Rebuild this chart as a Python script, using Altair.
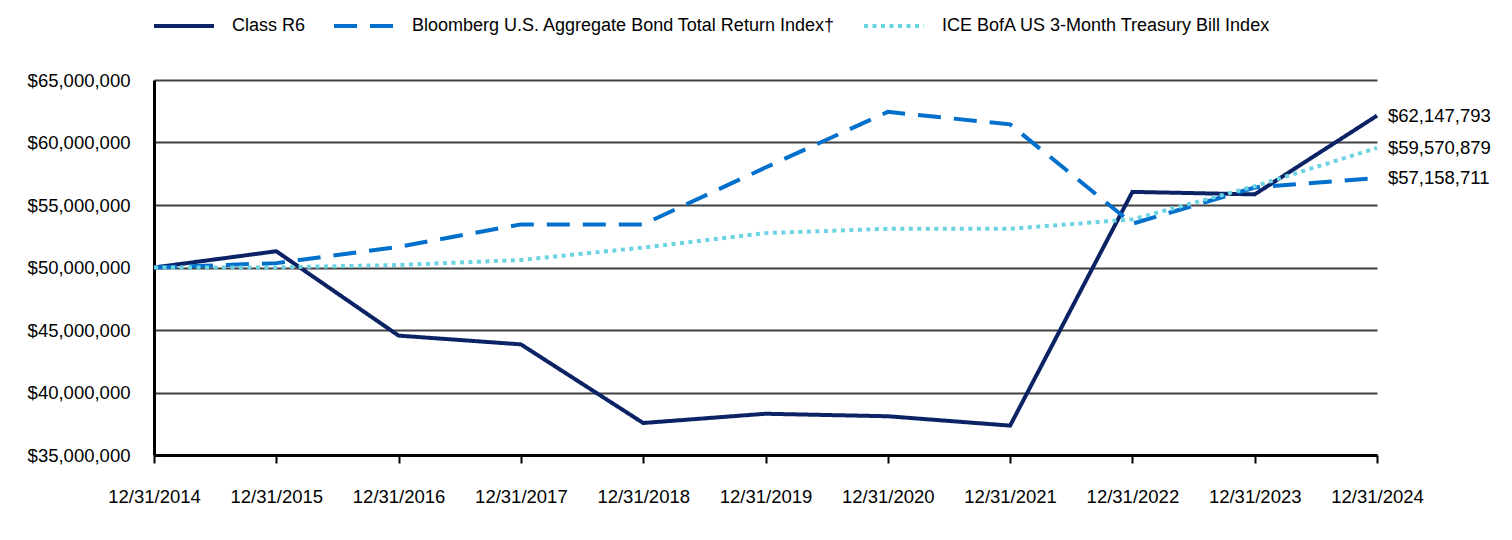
import altair as alt
import pandas as pd

dates = ["12/31/2014", "12/31/2015", "12/31/2016", "12/31/2017", "12/31/2018", "12/31/2019",
         "12/31/2020", "12/31/2021", "12/31/2022", "12/31/2023", "12/31/2024"]
series_names = ["Class R6", "Bloomberg U.S. Aggregate Bond Total Return Index\u2020",
                "ICE BofA US 3-Month Treasury Bill Index"]
class_r6 = [50000000, 51300000, 44550000, 43850000, 37560000, 38300000, 38100000, 37350000,
            56050000, 55850000, 62147793]
bloomberg = [50000000, 50350000, 51650000, 53450000, 53450000, 58000000, 62450000, 61450000,
             53500000, 56400000, 57158711]
ice = [50000000, 50010000, 50200000, 50600000, 51600000, 52750000, 53100000, 53100000,
       53850000, 56500000, 59570879]
colors = ["#0B2265", "#0070CC", "#6CD3E2"]
dashes = [[1, 0], [23, 13], [4, 4.5]]

rows = []
for name, vals in zip(series_names, [class_r6, bloomberg, ice]):
    for d, v in zip(dates, vals):
        rows.append({"date": d, "value": v, "series": name})
df = pd.DataFrame(rows)
last = df[df["date"] == dates[-1]]

FS = 18.5

x = alt.X("date:N", sort=dates, scale=alt.Scale(type="point", padding=0),
          axis=alt.Axis(title=None, labelAngle=0, grid=False, domainColor="black", domainWidth=3,
                        ticks=True, tickSize=8, tickWidth=2, tickColor="black", labelPadding=24,
                        labelFontSize=FS, labelColor="black", labelFont="Liberation Sans"))
y = alt.Y("value:Q", scale=alt.Scale(domain=[35000000, 65000000], nice=False, zero=False),
          axis=alt.Axis(title=None, values=[35000000, 40000000, 45000000, 50000000, 55000000, 60000000, 65000000],
                        format="$,.0f", grid=True, gridColor="#404040", gridWidth=2, domainColor="black",
                        domainWidth=3, ticks=False, tickSize=0, labelPadding=24, labelFontSize=FS,
                        labelColor="black", labelFont="Liberation Sans"))

lines = alt.Chart(df).mark_line(strokeWidth=4, clip=False).encode(
    x=x, y=y,
    color=alt.Color("series:N", sort=series_names,
                    scale=alt.Scale(domain=series_names, range=colors), title=None),
    strokeDash=alt.StrokeDash("series:N", sort=series_names,
                              scale=alt.Scale(domain=series_names, range=dashes), title=None),
)

labels = alt.Chart(last).mark_text(align="left", baseline="middle", dx=11, fontSize=FS,
                                   font="Liberation Sans", color="black").encode(
    x=alt.X("date:N", sort=dates, scale=alt.Scale(type="point", padding=0)),
    y=alt.Y("value:Q"),
    text=alt.Text("value:Q", format="$,.0f"),
)

chart = alt.layer(lines, labels).properties(
    width=1223, height=375,
    autosize=alt.AutoSizeParams(type="none"),
    padding={"left": 154, "top": 80, "right": 135, "bottom": 85},
).configure_view(stroke=None).configure_legend(
    orient="none", legendX=-2, legendY=-86, direction="horizontal",
    symbolType="stroke", symbolSize=3600, symbolStrokeWidth=4, labelFontSize=18,
    labelFont="Liberation Sans", labelColor="black", labelOffset=16, columnPadding=20,
    labelLimit=0, padding=0,
)

chart.save("out.html", embed_options={"renderer": "svg", "actions": False})
